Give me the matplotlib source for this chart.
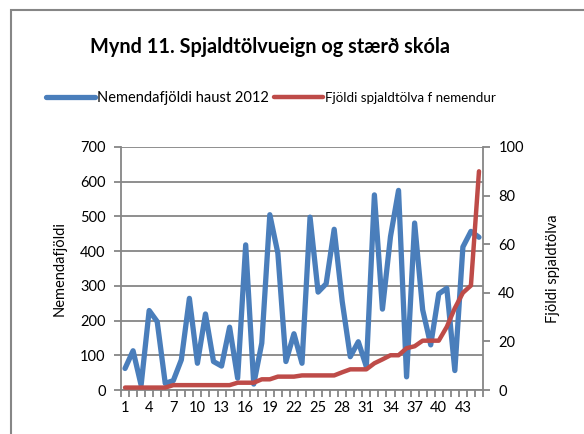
import matplotlib.pyplot as plt
import matplotlib.patches as mpatches
import numpy as np

plt.rcParams['font.family'] = ['Lato', 'DejaVu Sans']

# data
skoli = np.arange(1, 46)
nemendur = [62, 113, 14, 229, 197, 19, 27, 87, 264, 77,
            219, 82, 69, 181, 34, 418, 17, 135, 505, 394,
            82, 162, 77, 498, 282, 306, 463, 255, 96, 139,
            67, 562, 233, 442, 575, 38, 481, 231, 130, 277,
            293, 56, 412, 457, 440]
spjaldtolvur = [1, 1, 1, 1, 1, 1, 2, 2, 2, 2,
                2, 2, 2, 2, 3, 3, 3, 4.4, 4.4, 5.5,
                5.5, 5.5, 6, 6, 6, 6, 6, 7.3, 8.5, 8.5,
                8.5, 11, 12.6, 14.3, 14.3, 17.2, 18, 20.3, 20.3, 20.3,
                26, 33.7, 40, 43, 90]
xlabels = [str(k) for k in range(1, 46, 3)]

grey = '#868686'
blue = '#4A7EBB'
red = '#BE4B48'

fig = plt.figure(figsize=(5.84, 4.34), dpi=100)

# chart frame
fig.patches.append(mpatches.Rectangle((11/584, -0.1), 1.2, 1 - 10/434 + 0.1,
                                      transform=fig.transFigure, fill=False,
                                      edgecolor=grey, linewidth=1.5))

ax = fig.add_axes([121/584, 1 - 390/434, 362/584, 243/434])
ax2 = ax.twinx()

l1, = ax.plot(skoli, nemendur, color=blue, linewidth=3.8, solid_capstyle='round',
              solid_joinstyle='round', zorder=3)
l2, = ax2.plot(skoli, spjaldtolvur, color=red, linewidth=3.2, solid_capstyle='round',
               solid_joinstyle='round', zorder=3)

ax.set_xlim(0.5, 45.5)
ax.set_ylim(0, 700)
ax2.set_ylim(0, 100)

ax.set_yticks(np.arange(0, 701, 100))
ax2.set_yticks(np.arange(0, 101, 20))
ax.yaxis.grid(True, color=grey, linewidth=1.3)
ax.set_axisbelow(True)

# tick marks at category boundaries, labels at centres
ax.set_xticks(np.arange(0.5, 45.6, 1))
ax.set_xticklabels([])
ax.set_xticks(np.arange(1, 46, 3), minor=True)
ax.set_xticklabels(xlabels, minor=True)
ax.tick_params(axis='x', which='major', length=5, color=grey, width=1.3)
ax.tick_params(axis='x', which='minor', length=0, pad=8, labelsize=10.5)
ax.tick_params(axis='y', length=5, color=grey, width=1.3, labelsize=10.5, pad=6)
ax2.tick_params(axis='y', length=5, color=grey, width=1.3, labelsize=10.5, pad=6)

for a in (ax, ax2):
    for s in a.spines.values():
        s.set_visible(False)
ax.spines['left'].set_visible(True)
ax.spines['left'].set_color(grey)
ax.spines['left'].set_linewidth(1.3)
ax.spines['bottom'].set_visible(True)
ax.spines['bottom'].set_color(grey)
ax.spines['bottom'].set_linewidth(1.3)
ax2.spines['right'].set_visible(True)
ax2.spines['right'].set_color(grey)
ax2.spines['right'].set_linewidth(1.3)

ax.set_ylabel('Nemendafjöldi', fontsize=10.5, labelpad=10)
ax2.set_ylabel('Fjöldi spjaldtölva', fontsize=10.5, labelpad=16)

fig.text(0.462, 1 - 47/434, 'Mynd 11. Spjaldtölvueign og stærð skóla',
         ha='center', va='center', fontsize=14.3, fontweight='bold')

leg = fig.legend([l1, l2], ['Nemendafjöldi haust 2012', 'Fjöldi spjaldtölva f nemendur'],
                 loc='center', bbox_to_anchor=(271/584, 1 - 98/434), ncol=2, frameon=False,
                 fontsize=10.5, handlelength=3.4, handletextpad=0.15, columnspacing=0.3)
leg.get_texts()[1].set_fontsize(9.6)

fig.savefig('out.png', dpi=100)
